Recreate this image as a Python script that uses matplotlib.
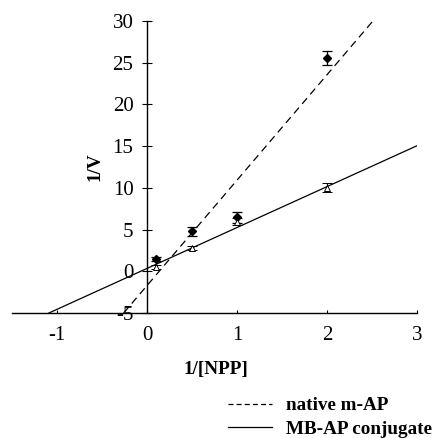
import matplotlib
matplotlib.use("Agg")
import matplotlib.pyplot as plt
from matplotlib.lines import Line2D

# measured points (1/[NPP], 1/V) with error bars
npp_inv = [0.1, 0.5, 1.0, 2.0]
native_v = [1.45, 4.8, 6.45, 25.6]
native_err = [0.25, 0.55, 0.7, 0.85]
mb_v = [0.55, 2.8, 5.95, 10.0]
mb_err = [0.25, 0.25, 0.45, 0.55]

# trend lines, end points
native_fit_x = [-0.26, 2.51]
native_fit_y = [-5, 30]
mb_fit_x = [-1.09, 3.0]
mb_fit_y = [-5, 15.05]

xticks = [-1, 0, 1, 2, 3]
yticks = [-5, 0, 5, 10, 15, 20, 25, 30]

plt.rcParams['font.family'] = ['Liberation Serif', 'DejaVu Serif']
plt.rcParams['axes.unicode_minus'] = False
tick_fs = 15
lab_fs = 13.8

fig = plt.figure(figsize=(4.45, 4.38), dpi=100)
ax = fig.add_axes([12 / 445, 1 - 313 / 438, 405 / 445, 292 / 438])

ax.plot(native_fit_x, native_fit_y, color='black', lw=0.9, ls=(0, (6, 4)))
ax.plot(mb_fit_x, mb_fit_y, color='black', lw=0.9)

ax.errorbar(npp_inv, native_v, yerr=native_err, fmt='D', ms=3.7,
            color='black', mfc='black', ecolor='black', elinewidth=0.9,
            capsize=3.5, capthick=0.9)
ax.errorbar(npp_inv, mb_v, yerr=mb_err, fmt='^', ms=4,
            color='black', mfc='white', mec='black', mew=0.7, ecolor='black',
            elinewidth=0.9, capsize=3.5, capthick=0.9)

ax.set_xlim(-1.5, 3)
ax.set_ylim(-5, 30)

for s in ['top', 'right']:
    ax.spines[s].set_visible(False)
ax.spines['left'].set_position(('data', 0))
ax.spines['left'].set_linewidth(1.0)
ax.spines['bottom'].set_linewidth(1.0)

ax.set_xticks(xticks)
ax.set_yticks(yticks)
ax.tick_params(axis='x', direction='in', length=2.2, pad=9, labelsize=tick_fs)
ax.tick_params(axis='y', direction='inout', length=6.5, pad=6.5, labelsize=tick_fs)

ax.set_xlabel('1/[NPP]', fontsize=lab_fs, fontweight='bold')
ax.xaxis.set_label_coords((216 - 12) / 405, (313 - 361) / 292)
ax.set_ylabel('1/V', fontsize=lab_fs, fontweight='bold')
ax.yaxis.set_label_coords((104 - 12) / 405, (313 - 167) / 292)

handles = [Line2D([], [], color='black', lw=0.9, ls=(0, (4, 2.5))),
           Line2D([], [], color='black', lw=0.9)]
fig.legend(handles, ['native m-AP', 'MB-AP conjugate'],
           loc='upper left', bbox_to_anchor=(228 / 445, 1 - 397 / 438),
           frameon=False, handlelength=2.3, handletextpad=0.75,
           labelspacing=0.3, borderpad=0, borderaxespad=0,
           prop={'size': lab_fs, 'weight': 'bold'})

fig.savefig('out.png', dpi=100)
